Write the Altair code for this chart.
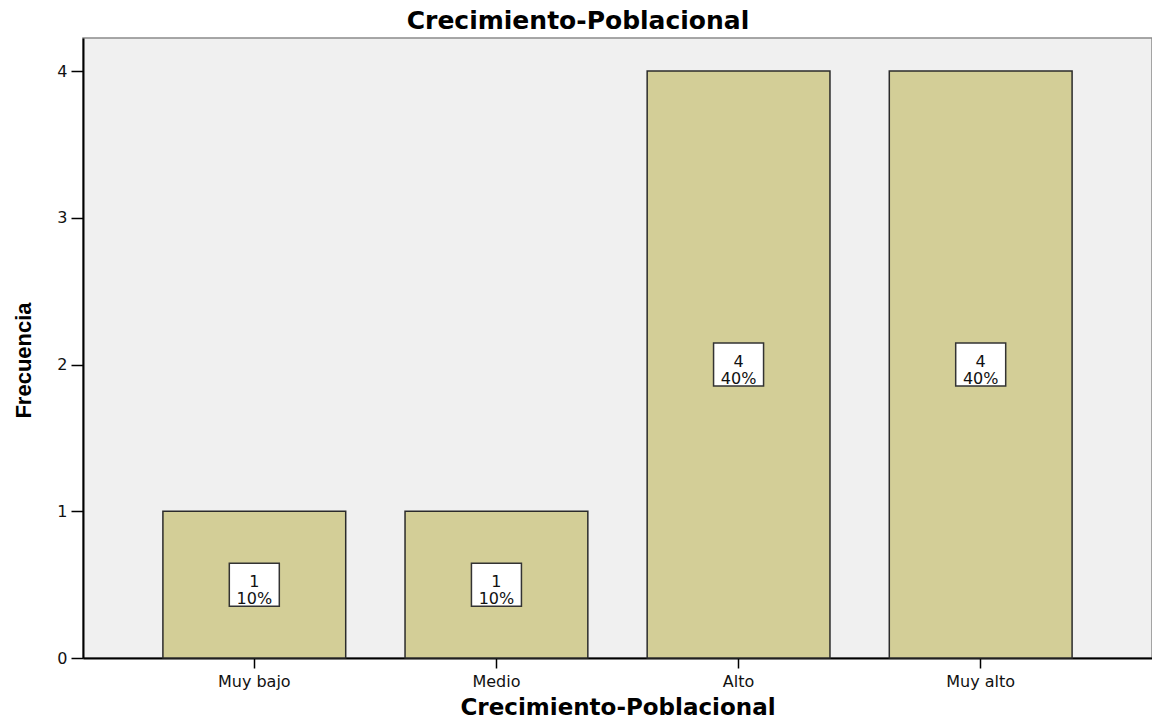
import altair as alt
import pandas as pd

categories = ["Muy bajo", "Medio", "Alto", "Muy alto"]
counts = [1, 1, 4, 4]
percents = [10, 10, 40, 40]
y_ticks = [0, 1, 2, 3, 4]
chart_title = "Crecimiento-Poblacional"
x_title = "Crecimiento-Poblacional"
y_title = "Frecuencia"

df = pd.DataFrame({
    "cat": categories,
    "count": counts,
    "pct": percents,
})
df["label"] = [f"{c}\n{p}%" for c, p in zip(counts, percents)]
df["mid"] = df["count"] / 2

title_df = pd.DataFrame({"t": [chart_title]})

x_enc = alt.X(
    "cat:N",
    sort=categories,
    scale=alt.Scale(paddingInner=0.245, paddingOuter=0.33),
    axis=alt.Axis(
        title=x_title,
        labelAngle=0,
        tickSize=10,
        tickColor="black",
        tickWidth=1.5,
        domainColor="black",
        domainWidth=2,
        labelFont="DejaVu Sans",
        labelFontSize=16,
        labelColor="#111",
        labelPadding=5,
        titleFont="DejaVu Sans",
        titleFontSize=23,
        titleFontWeight="bold",
        titleColor="black",
        titleY=56,
        titleBaseline="alphabetic",
    ),
)

y_scale = alt.Scale(domain=[0, 4.225], nice=False, zero=True)

bars = alt.Chart(df).mark_bar(
    fill="#D3CE97", stroke="#2b2b2b", strokeWidth=1.5
).encode(
    x=x_enc,
    y=alt.Y(
        "count:Q",
        scale=y_scale,
        axis=alt.Axis(
            values=y_ticks,
            format="d",
            grid=False,
            tickSize=12,
            tickColor="black",
            tickWidth=1.5,
            domainColor="black",
            domainWidth=2,
            labelFont="DejaVu Sans",
            labelFontSize=16,
            labelColor="#111",
            labelPadding=4,
            title=y_title,
            titleFont="Liberation Sans",
            titleFontSize=22,
            titleFontWeight="bold",
            titleColor="black",
            titleAngle=-90,
            titleX=-60,
            titleY=322,
            titleAlign="center",
            titleBaseline="middle",
        ),
    ),
)

boxes = alt.Chart(df).mark_point(
    shape="M-1,-0.86L1,-0.86L1,0.86L-1,0.86Z",
    size=2500,
    filled=True,
    fill="white",
    stroke="#333",
    strokeWidth=1.5,
    opacity=1,
).encode(
    x=alt.X("cat:N", sort=categories),
    y=alt.Y("mid:Q", scale=y_scale),
)

texts = alt.Chart(df).mark_text(
    lineBreak="\n",
    font="DejaVu Sans",
    fontSize=16,
    lineHeight=17,
    color="#111",
    baseline="middle",
    align="center",
    dy=-3,
).encode(
    x=alt.X("cat:N", sort=categories),
    y=alt.Y("mid:Q", scale=y_scale),
    text="label:N",
)

title_mark = alt.Chart(title_df).mark_text(
    font="DejaVu Sans",
    fontSize=25,
    fontWeight="bold",
    color="black",
    align="center",
    baseline="alphabetic",
).encode(
    x=alt.value(495),
    y=alt.value(-9),
    text="t:N",
)

chart = alt.layer(bars, boxes, texts, title_mark).properties(
    width=1069,
    height=620,
    background="white",
    autosize=alt.AutoSizeParams(type="none"),
    padding={"left": 75, "top": 30, "right": 0, "bottom": 57},
).configure_view(
    fill="#F0F0F0", stroke="#8a8a8a", strokeWidth=1.5
)

chart.save("out.html", embed_options={"renderer": "svg", "actions": False})
